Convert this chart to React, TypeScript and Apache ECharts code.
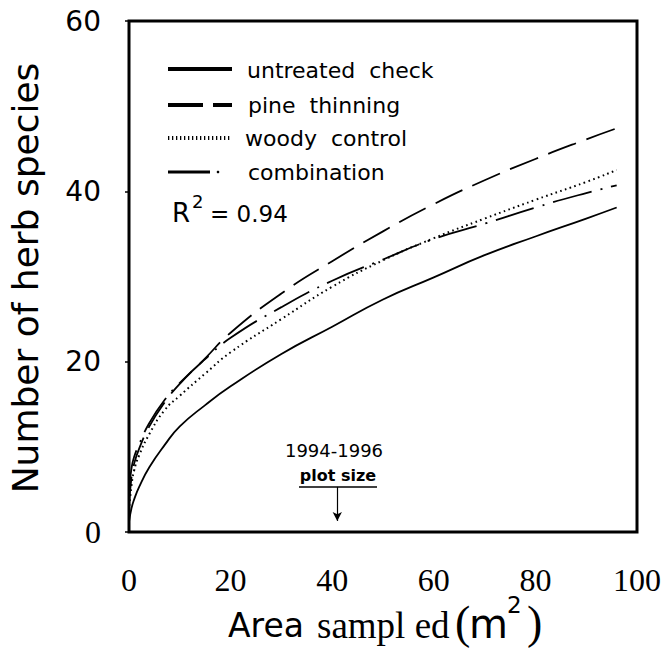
import React, { useEffect, useRef } from 'react';
import * as echarts from 'echarts';

// Area sampled (m²) at which the curves were read
const areaSampled = [0, 0.5, 1, 2, 4, 7, 10, 15, 20, 30, 40, 50, 60, 70, 80, 90, 96];
// Number of herb species per treatment
const untreatedCheck = [1.2, 2.8, 3.8, 5.3, 7.6, 10.2, 12.4, 14.9, 17.1, 20.9, 24.1, 27.3, 29.9, 32.5, 34.7, 36.8, 38.1];
const pineThinning = [3, 6.5, 8, 9.8, 12.4, 15.2, 17.4, 20.4, 23.4, 28.0, 31.8, 35.3, 38.5, 41.3, 43.8, 46.1, 47.4];
const woodyControl = [2.5, 5.5, 7.2, 9.0, 11.5, 14.3, 16.0, 18.6, 21.1, 25.0, 28.8, 31.9, 34.5, 36.8, 39.0, 41.1, 42.5];
const combination = [5, 7.5, 8.8, 10.3, 12.8, 15.5, 17.5, 20.3, 22.8, 26.4, 29.5, 32.0, 34.4, 36.2, 38.1, 39.8, 40.7];

const xTicks = [0, 20, 40, 60, 80, 100];
const yTicks = [0, 20, 40, 60];
const plotSizeArea = 41;
const plotArrowFrom = 5.3;
const plotArrowTo = 1.3;

const SANS = 'DejaVu Sans';
const SERIF = 'Liberation Serif';

const pairs = (ys: number[]) => areaSampled.map((x, i) => [x, ys[i]]);

const txt = (text: string, x: number, y: number, size: number, family: string, extra: any = {}) => ({
  type: 'text',
  x,
  y,
  ...extra.el,
  style: {
    text,
    fill: '#000',
    fontSize: size,
    fontFamily: family,
    fontWeight: extra.bold ? 'bold' : 'normal',
    align: extra.align || 'left',
    verticalAlign: 'middle',
  },
});

export default function App() {
  const ref = useRef<HTMLDivElement>(null);
  useEffect(() => {
    if (!ref.current) return;
    const chart = echarts.init(ref.current, undefined, { renderer: 'svg' });
    const lineSeries = (name: string, ys: number[], type: any, width: number) => ({
      name,
      type: 'line',
      data: pairs(ys),
      smooth: true,
      showSymbol: false,
      symbol: 'none',
      lineStyle: { color: '#000', width, type },
    });
    chart.setOption({
      animation: false,
      backgroundColor: '#fff',
      grid: {
        left: 129,
        top: 21,
        right: 27,
        bottom: 118,
        show: true,
        borderColor: '#000',
        borderWidth: 3,
        containLabel: false,
      },
      xAxis: {
        type: 'value',
        min: xTicks[0],
        max: xTicks[xTicks.length - 1],
        interval: 20,
        axisLine: { show: false },
        axisTick: { show: false },
        splitLine: { show: false },
        axisLabel: {
          margin: 32,
          color: '#000',
          fontFamily: SERIF,
          fontSize: 32,
        },
      },
      yAxis: {
        type: 'value',
        min: yTicks[0],
        max: yTicks[yTicks.length - 1],
        interval: 20,
        axisLine: { show: false },
        axisTick: { show: true, length: 4, lineStyle: { color: '#000', width: 1.5 } },
        splitLine: { show: false },
        axisLabel: {
          margin: 28,
          color: '#000',
          formatter: (v: number) => (v === 0 ? '{s|0}' : '{a|' + v + '}'),
          rich: {
            s: { fontFamily: SERIF, fontSize: 32, color: '#000' },
            a: { fontFamily: SANS, fontSize: 28, color: '#000' },
          },
        },
      },
      series: [
        {
          ...lineSeries('untreated check', untreatedCheck, 'solid', 1.8),
          markLine: {
            silent: true,
            symbol: ['none', 'arrow'],
            symbolSize: [7, 9],
            label: { show: false },
            lineStyle: { color: '#000', width: 1.2, type: 'solid' },
            data: [[{ coord: [plotSizeArea, plotArrowFrom] }, { coord: [plotSizeArea, plotArrowTo] }]],
          },
        },
        lineSeries('pine thinning', pineThinning, [30, 11], 1.8),
        lineSeries('woody control', woodyControl, [1.6, 3.4], 2),
        lineSeries('combination', combination, [40, 9, 2, 9], 1.8),
      ],
      graphic: [
        // legend samples
        { type: 'line', shape: { x1: 168, y1: 69, x2: 232, y2: 69 }, style: { stroke: '#000', lineWidth: 4 } },
        { type: 'line', shape: { x1: 168, y1: 105, x2: 232, y2: 105 }, style: { stroke: '#000', lineWidth: 4, lineDash: [35, 10] } },
        { type: 'line', shape: { x1: 168, y1: 138, x2: 230, y2: 138 }, style: { stroke: '#000', lineWidth: 4, lineDash: [1.3, 2.7] } },
        { type: 'line', shape: { x1: 168, y1: 172, x2: 210, y2: 172 }, style: { stroke: '#000', lineWidth: 3 } },
        { type: 'circle', shape: { cx: 218, cy: 172, r: 1.3 }, style: { fill: '#000' } },
        txt('untreated  check', 247, 70, 22, SANS),
        txt('pine  thinning', 248, 105, 22, SANS),
        txt('woody  control', 245, 138, 22, SANS),
        txt('combination', 248, 172, 22, SANS),
        // R²
        txt('R', 172, 213, 26, SANS),
        txt('2', 192, 201, 18, SANS),
        txt('= 0.94', 210, 214, 23, SANS),
        // plot size annotation
        txt('1994-1996', 334, 450, 18, SANS, { align: 'center' }),
        txt('plot size', 338, 475, 16, SANS, { align: 'center', bold: true }),
        { type: 'line', shape: { x1: 299, y1: 487, x2: 377, y2: 487 }, style: { stroke: '#000', lineWidth: 1.5 } },
        // y axis title
        txt('Number of herb species', 25, 278, 36, SANS, { align: 'center', el: { rotation: Math.PI / 2 } }),
        // x axis title
        txt('Area', 228, 625, 33, SANS),
        txt('sampl ed', 317, 625, 37, SERIF),
        txt('(', 455, 622, 46, SERIF),
        txt('m', 469, 624, 40, SANS),
        txt('2', 507, 605, 23, SANS),
        txt(')', 527, 622, 46, SERIF),
      ],
    });
    return () => chart.dispose();
  }, []);
  return <div ref={ref} style={{ width: 664, height: 650, position: 'absolute', left: 0, top: 0 }} />;
}
